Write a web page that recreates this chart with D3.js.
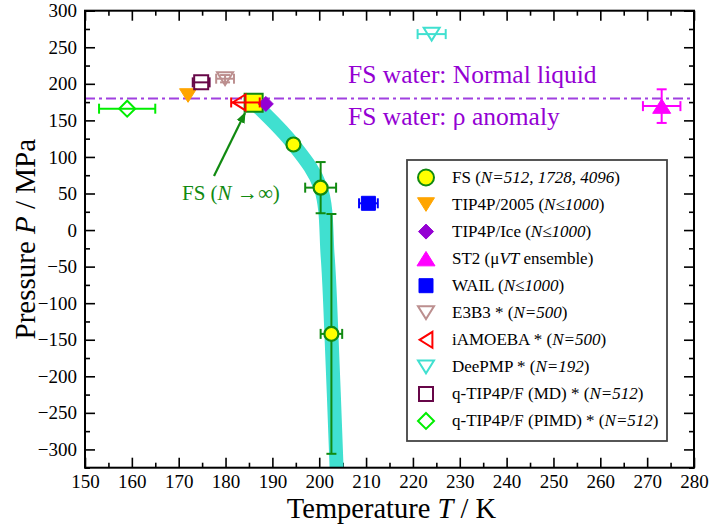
<!DOCTYPE html>
<html><head><meta charset="utf-8">
<script src="https://cdn.jsdelivr.net/npm/d3@7"></script>
<style>body{margin:0;background:#fff}svg{display:block}</style>
</head><body>
<svg id="c" width="712" height="524"></svg>
<script>
// ---------------- data ----------------
const xTicks = [150,160,170,180,190,200,210,220,230,240,250,260,270,280];
const xMinor = [155,165,175,185,195,205,215,225,235,245,255,265,275];
const yTicks = [-300,-250,-200,-150,-100,-50,0,50,100,150,200,250,300];
const yMinor = [-325,-275,-225,-175,-125,-75,-25,25,75,125,175,225,275];

// FS extrapolated (N -> infinity) point
const fsInfT = [186];
const fsInfP = [174];
// FS finite-size simulations
const fsT    = [194.5, 200.3, 202.6];
const fsP    = [117, 58, -142];
const fsTerr = [0, 3.3, 2.3];
const fsPerr = [0, 35, 164];
// FS thick guide band
const bandT = [186, 194.5, 200.3, 201.8, 202.6, 203.7];
const bandP = [174, 117, 58, -36, -142, -325];

// other models
const modelNames  = ["TIP4P/2005","TIP4P/Ice","ST2","WAIL","E3B3","iAMOEBA","DeePMP","q-TIP4P/F (MD)","q-TIP4P/F (PIMD)"];
const modelT      = [172, 188.6, 273.1, 210.5, 179.9, 182.9, 224, 174.8, 159];
const modelP      = [184, 172.5, 169.5, 36.6, 207, 174.5, 268, 202, 166];
const modelTerrLo = [0, 0, 4, 2, 1.9, 1.7, 3.0, 1.8, 6];
const modelTerrHi = [0, 0, 4, 2, 1.9, 4.4, 3.0, 1.8, 6];
const modelPerr   = [0, 0, 23, 0, 5, 0, 0, 0, 0];

const anomalyP = 180;

const legendLabels = [
  [["FS (",0],["N=512, 1728, 4096",1],[")",0]],
  [["TIP4P/2005 (",0],["N≤1000",1],[")",0]],
  [["TIP4P/Ice (",0],["N≤1000",1],[")",0]],
  [["ST2 (μ",0],["VT",1],[" ensemble)",0]],
  [["WAIL (",0],["N≤1000",1],[")",0]],
  [["E3B3 * (",0],["N=500",1],[")",0]],
  [["iAMOEBA * (",0],["N=500",1],[")",0]],
  [["DeePMP * (",0],["N=192",1],[")",0]],
  [["q-TIP4P/F (MD) * (",0],["N=512",1],[")",0]],
  [["q-TIP4P/F (PIMD) * (",0],["N=512",1],[")",0]]
];

// ---------------- styles ----------------
const FONT = "'Liberation Serif','Times New Roman',Times,serif";
const GREEN = "#118a11";
const styles = [
  {sym:"triDown", fill:"#ffa500", stroke:"#ffa500", r:8.5},
  {sym:"diamond", fill:"#9400d3", stroke:"#9400d3", r:7.5},
  {sym:"triUp",   fill:"#ff00ff", stroke:"#ff00ff", r:9},
  {sym:"square",  fill:"#0000ff", stroke:"#0000ff", r:7},
  {sym:"triDown", fill:"none",    stroke:"#bc8f8f", r:8},
  {sym:"triLeft", fill:"none",    stroke:"#ff0000", r:8},
  {sym:"triDown", fill:"none",    stroke:"#40e0d0", r:8},
  {sym:"square",  fill:"none",    stroke:"#670748", r:7},
  {sym:"diamond", fill:"none",    stroke:"#00ee00", r:8}
];

function symPath(t, r){
  const h = r*0.8;
  switch(t){
    case "square": return `M${-r},${-r}H${r}V${r}H${-r}Z`;
    case "diamond": return `M0,${-r}L${r},0L0,${r}L${-r},0Z`;
    case "triDown": return `M${-r},${-h}L${r},${-h}L0,${h}Z`;
    case "triUp": return `M${-r},${h}L${r},${h}L0,${-h}Z`;
    case "triLeft": return `M${h},${-r}L${h},${r}L${-h},0Z`;
    case "circle": return d3.symbol(d3.symbolCircle, Math.PI*r*r)();
  }
}

// ---------------- chart ----------------
const svg = d3.select("#c");
const L=85, R=694, T=10.7, B=467.7;
const x = d3.scaleLinear([150,280],[L,R]);
const y = d3.scaleLinear([-325,300],[B,T]);

function styleAxis(g){ g.select(".domain").remove(); g.selectAll("line").attr("stroke","#000").attr("stroke-width",1.6); g.selectAll("text").attr("font-family",FONT).attr("font-size",19).attr("fill","#000"); }
svg.append("g").attr("transform",`translate(0,${B})`).call(d3.axisBottom(x).tickValues(xTicks).tickSize(-10).tickPadding(7).tickFormat(d3.format("d"))).call(styleAxis);
svg.append("g").attr("transform",`translate(0,${B})`).call(d3.axisBottom(x).tickValues(xMinor).tickSize(-5).tickFormat("")).call(styleAxis);
svg.append("g").attr("transform",`translate(0,${T})`).call(d3.axisTop(x).tickValues(xTicks).tickSize(-10).tickFormat("")).call(styleAxis);
svg.append("g").attr("transform",`translate(0,${T})`).call(d3.axisTop(x).tickValues(xMinor).tickSize(-5).tickFormat("")).call(styleAxis);
svg.append("g").attr("transform",`translate(${L},0)`).call(d3.axisLeft(y).tickValues(yTicks).tickSize(-10).tickPadding(8).tickFormat(d3.format("d"))).call(styleAxis);
svg.append("g").attr("transform",`translate(${L},0)`).call(d3.axisLeft(y).tickValues(yMinor).tickSize(-5).tickFormat("")).call(styleAxis);
svg.append("g").attr("transform",`translate(${R},0)`).call(d3.axisRight(y).tickValues(yTicks).tickSize(-10).tickFormat("")).call(styleAxis);
svg.append("g").attr("transform",`translate(${R},0)`).call(d3.axisRight(y).tickValues(yMinor).tickSize(-5).tickFormat("")).call(styleAxis);

// axis titles
const xt = svg.append("text").attr("x",(L+R)/2+2).attr("y",518).attr("text-anchor","middle")
  .attr("font-family",FONT).attr("font-size",28.5).attr("fill","#000");
xt.append("tspan").text("Temperature ");
xt.append("tspan").attr("font-style","italic").text("T");
xt.append("tspan").text(" / K");
const yt = svg.append("text").attr("transform",`translate(35,${(T+B)/2}) rotate(-90)`).attr("text-anchor","middle")
  .attr("font-family",FONT).attr("font-size",29).attr("fill","#000");
yt.append("tspan").text("Pressure ");
yt.append("tspan").attr("font-style","italic").text("P");
yt.append("tspan").text(" / MPa");

// clip
svg.append("clipPath").attr("id","clip").append("rect").attr("x",L).attr("y",T).attr("width",R-L).attr("height",B-T);
const plot = svg.append("g").attr("clip-path","url(#clip)");

// anomaly dash-dot line
plot.append("line").attr("x1",L).attr("x2",R).attr("y1",y(anomalyP)).attr("y2",y(anomalyP))
  .attr("stroke","#a040e0").attr("stroke-width",2).attr("stroke-dasharray","10,4,3,4");

// texts
const VIOLET="#9400d3";
svg.append("text").attr("x",348).attr("y",83).attr("font-family",FONT).attr("font-size",25.5).attr("fill",VIOLET).text("FS water: Normal liquid");
svg.append("text").attr("x",348).attr("y",125).attr("font-family",FONT).attr("font-size",25.5).attr("fill",VIOLET).text("FS water: ρ anomaly");

// band
const bandData = bandT.map((t,i)=>[t,bandP[i]]);
plot.append("path").datum(bandData)
  .attr("d", d3.line().x(d=>x(d[0])).y(d=>y(d[1])).curve(d3.curveCatmullRom.alpha(0.5)))
  .attr("fill","none").attr("stroke","#40e0d0").attr("stroke-width",14).attr("stroke-linecap","butt");

// error bar helper
function errBars(g, tx, py, teLo, teHi, pe, color, cap){
  const cx = x(tx), cy = y(py);
  const ln = (a,b,c,d)=>g.append("line").attr("x1",a).attr("y1",b).attr("x2",c).attr("y2",d).attr("stroke",color).attr("stroke-width",2);
  if(teLo>0 || teHi>0){
    const x0=x(tx-teLo), x1=x(tx+teHi);
    ln(x0,cy,x1,cy); ln(x0,cy-cap,x0,cy+cap); ln(x1,cy-cap,x1,cy+cap);
  }
  if(pe>0){
    const y0=y(py+pe), y1=y(py-pe);
    ln(cx,y0,cx,y1); ln(cx-cap,y0,cx+cap,y0); ln(cx-cap,y1,cx+cap,y1);
  }
}

const pts = svg.append("g");
// FS infinite square
pts.append("path").attr("d",symPath("square",9)).attr("transform",`translate(${x(fsInfT[0])},${y(fsInfP[0])})`)
  .attr("fill","#ffff00").attr("stroke",GREEN).attr("stroke-width",2);

// FS finite
fsT.forEach((t,i)=>{ errBars(pts, t, fsP[i], fsTerr[i], fsTerr[i], fsPerr[i], GREEN, 5); });
fsT.forEach((t,i)=>{
  pts.append("circle").attr("cx",x(t)).attr("cy",y(fsP[i])).attr("r",7)
    .attr("fill","#ffff00").attr("stroke",GREEN).attr("stroke-width",2.2);
});

// other models
modelNames.forEach((n,i)=>{
  const s = styles[i];
  errBars(pts, modelT[i], modelP[i], modelTerrLo[i], modelTerrHi[i], modelPerr[i], s.stroke, 5);
  pts.append("path").attr("d",symPath(s.sym,s.r)).attr("transform",`translate(${x(modelT[i])},${y(modelP[i])})`)
    .attr("fill",s.fill).attr("stroke",s.stroke).attr("stroke-width",s.fill==="none"?2:1);
});

// annotation arrow
svg.append("defs").append("marker").attr("id","arr").attr("viewBox","0 0 10 10").attr("refX",9).attr("refY",5)
  .attr("markerWidth",5).attr("markerHeight",5).attr("orient","auto")
  .append("path").attr("d","M0,1L10,5L0,9Z").attr("fill",GREEN);
svg.append("line").attr("x1",214).attr("y1",176).attr("x2",245).attr("y2",113)
  .attr("stroke",GREEN).attr("stroke-width",2.2).attr("marker-end","url(#arr)");
svg.append("text").attr("x",182).attr("y",200).attr("font-family",FONT).attr("font-size",21).attr("fill",GREEN)
  .html('FS (<tspan font-style="italic">N</tspan> →∞)');

// frame
svg.append("rect").attr("x",L).attr("y",T).attr("width",R-L).attr("height",B-T)
  .attr("fill","none").attr("stroke","#000").attr("stroke-width",2);

// legend
const lg = svg.append("g");
lg.append("rect").attr("x",407).attr("y",160).attr("width",260).attr("height",281)
  .attr("fill","#fff").attr("stroke","#444").attr("stroke-width",1.8);
const legSyms = [{sym:"circle", fill:"#ffff00", stroke:GREEN, r:8}].concat(styles);
legendLabels.forEach((lab,i)=>{
  const cy = 177.5 + i*27.05;
  const s = legSyms[i];
  lg.append("path").attr("d",symPath(s.sym,s.r)).attr("transform",`translate(426,${cy})`)
    .attr("fill",s.fill).attr("stroke",s.stroke).attr("stroke-width",s.fill==="none"||i===0?2:1);
  const t = lg.append("text").attr("x",452).attr("y",cy+5.5).attr("font-family",FONT).attr("font-size",17).attr("fill","#000");
  lab.forEach(seg=>{ const sp=t.append("tspan").text(seg[0]); if(seg[1]) sp.attr("font-style","italic"); });
});
</script>
</body></html>
